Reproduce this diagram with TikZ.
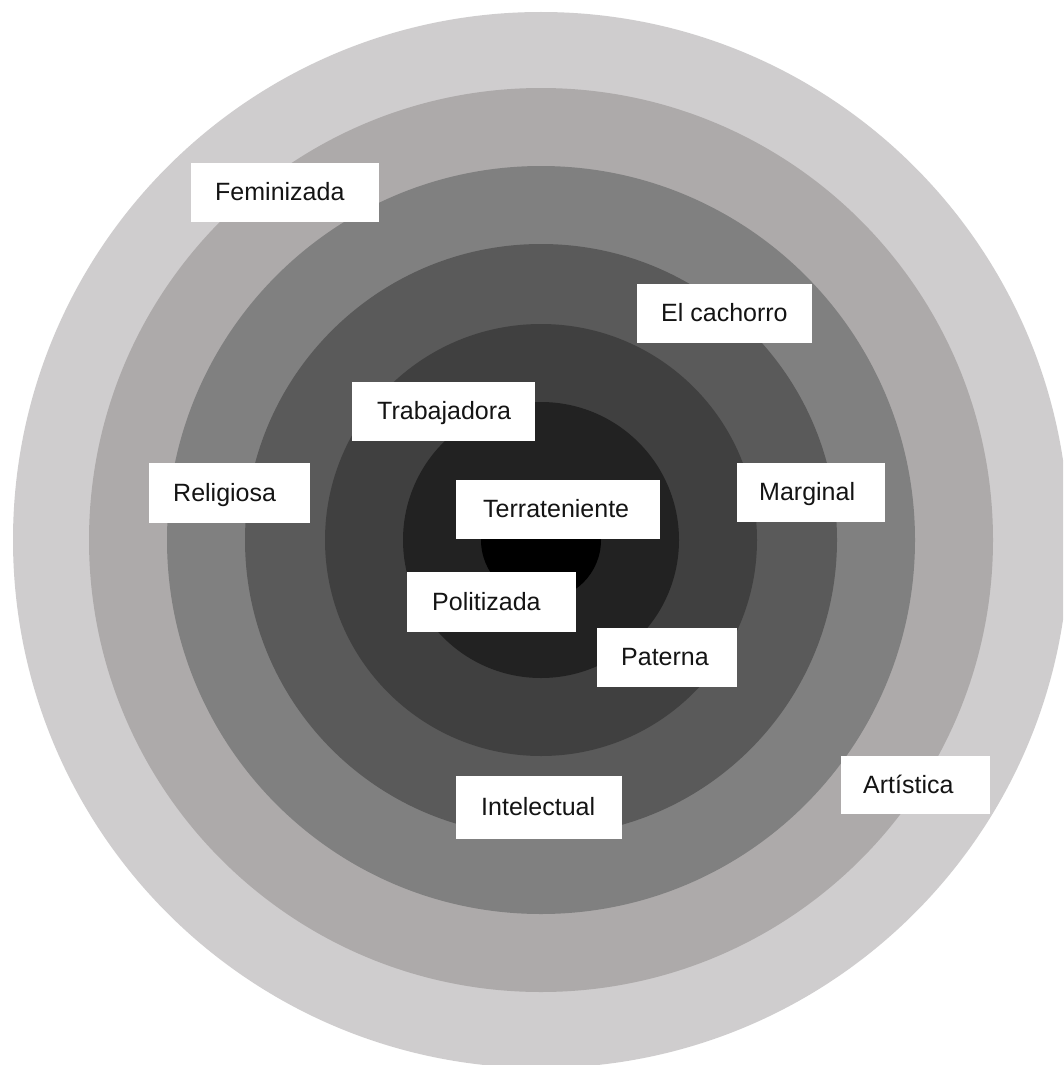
\documentclass[tikz,border=0pt]{standalone}
\usepackage{fontspec}
\setmainfont{Liberation Sans}
\definecolor{ringA}{RGB}{207,205,206}
\definecolor{ringB}{RGB}{173,170,170}
\definecolor{ringC}{RGB}{128,128,128}
\definecolor{ringD}{RGB}{90,90,90}
\definecolor{ringE}{RGB}{64,64,64}
\definecolor{ringF}{RGB}{34,34,34}
\definecolor{ringG}{RGB}{0,0,0}
\definecolor{lbltext}{RGB}{20,20,20}
\tikzset{
  lbl/.style={fill=white, anchor=west, inner xsep=24pt, inner ysep=0pt,
    text height=18pt, text depth=2pt, minimum height=59pt,
    font=\fontsize{25pt}{30pt}\selectfont, text=lbltext},
  ring/.style={draw=none}
}
\begin{document}
\begin{tikzpicture}[x=1pt,y=-1pt]
\useasboundingbox (0,0) rectangle (1063,1065);
\fill[white] (0,0) rectangle (1063,1065);
\begin{scope}
\clip (0,0) rectangle (1063,1065);
\coordinate (c) at (541,540);
\fill[ring, ringA] (c) circle (528pt);
\fill[ring, ringB] (c) circle (452pt);
\fill[ring, ringC] (c) circle (374pt);
\fill[ring, ringD] (c) circle (296pt);
\fill[ring, ringE] (c) circle (216pt);
\fill[ring, ringF] (c) circle (138pt);
\fill[ring, ringG] (c) circle (60pt);
\end{scope}
\node[lbl] (fem) at (191,192.5) {\makebox[140pt][l]{Feminizada}};
\node[lbl] (cach) at (637,313.5) {\makebox[127pt][l]{El cachorro}};
\node[lbl] (trab) at (352,411.5) {\makebox[135pt][l]{\hspace{1pt}Trabajadora}};
\node[lbl, minimum height=60pt] (reli) at (149,493) {\makebox[113pt][l]{Religiosa}};
\node[lbl] (terr) at (456,509.5) {\makebox[156pt][l]{\hspace{3pt}Terrateniente}};
\node[lbl] (marg) at (737,492.5) {\makebox[100pt][l]{\hspace{-2pt}Marginal}};
\node[lbl, minimum height=60pt] (poli) at (407,602) {\makebox[121pt][l]{\hspace{1pt}Politizada}};
\node[lbl] (pate) at (597,657.5) {\makebox[92pt][l]{Paterna}};
\node[lbl, minimum height=63pt] (inte) at (456,807.5) {\makebox[118pt][l]{\hspace{1pt}Intelectual}};
\node[lbl, minimum height=58pt] (arti) at (841,785) {\makebox[101pt][l]{\hspace{-2pt}Artística}};
\end{tikzpicture}
\end{document}
